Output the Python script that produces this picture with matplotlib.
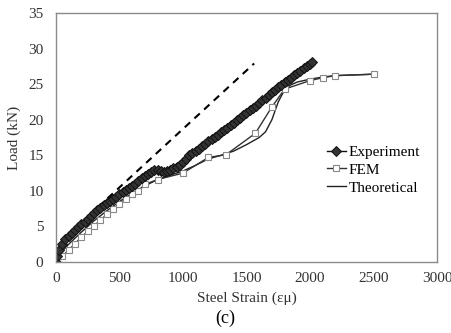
import matplotlib
matplotlib.use("Agg")
import matplotlib.pyplot as plt

# Experiment (diamonds, dense)
exp_strain = [0, 10, 25, 50, 75, 100, 125, 150, 175, 200, 225, 250, 275, 300, 325, 350,
              375, 400, 425, 450, 475, 500, 525, 550, 575, 600, 625, 650, 675, 700, 725,
              750, 775, 800, 825, 850, 875, 900, 925, 950, 975, 1000, 1025, 1050, 1075,
              1100, 1125, 1150, 1175, 1200, 1225, 1250, 1275, 1300, 1325, 1350, 1375,
              1400, 1425, 1450, 1475, 1500, 1525, 1550, 1575, 1600, 1625, 1650, 1675,
              1700, 1725, 1750, 1775, 1800, 1825, 1850, 1875, 1900, 1925, 1950, 1975,
              2000, 2015]
exp_load = [0, 0.9, 1.7, 2.6, 3.2, 3.7, 4.1, 4.5, 4.9, 5.3, 5.7, 6.1, 6.5, 6.9, 7.3, 7.6,
            8.0, 8.3, 8.6, 8.9, 9.2, 9.5, 9.8, 10.1, 10.4, 10.7, 11.0, 11.4, 11.8, 12.1, 12.4,
            12.7, 12.9, 13.0, 12.8, 12.7, 12.8, 13.0, 13.2, 13.4, 13.6, 14.0, 14.5, 15.0, 15.3,
            15.6, 15.9, 16.3, 16.6, 17.0, 17.3, 17.6, 17.9, 18.3, 18.6, 18.9, 19.3,
            19.6, 19.9, 20.3, 20.6, 21.0, 21.3, 21.7, 22.0, 22.4, 22.8, 23.1, 23.5,
            23.9, 24.2, 24.6, 24.9, 25.3, 25.6, 25.9, 26.3, 26.6, 26.9, 27.2, 27.5,
            27.8, 28.1]

# FEM (squares)
fem_strain = [0, 50, 100, 150, 200, 250, 300, 350, 400, 450, 500, 550, 600, 650, 700,
              800, 1000, 1200, 1340, 1570, 1700, 1800, 2000, 2100, 2200, 2500]
fem_load = [0, 0.8, 1.7, 2.6, 3.5, 4.3, 5.1, 5.9, 6.7, 7.5, 8.2, 8.9, 9.5, 10.0, 10.9,
            11.6, 12.5, 14.7, 15.1, 18.1, 21.8, 24.3, 25.5, 25.9, 26.2, 26.4]

# Theoretical (solid line)
theo_strain = [0, 50, 100, 200, 300, 400, 500, 600, 700, 800, 900, 1000, 1100, 1200,
               1300, 1400, 1500, 1600, 1650, 1700, 1750, 1800, 1850, 1900, 2000, 2100,
               2200, 2500]
theo_load = [0, 1.5, 2.5, 4.2, 5.8, 7.2, 8.5, 9.7, 10.7, 11.6, 12.2, 12.8, 13.6, 14.5,
             15.0, 15.6, 16.5, 17.5, 18.3, 20.0, 22.5, 24.2, 24.9, 25.3, 25.7, 26.0,
             26.2, 26.4]

# dashed reference line
ref_strain = [330, 1560]
ref_load = [7.7, 27.9]

plt.rcParams["font.family"] = ["Liberation Serif", "DejaVu Serif"]

fig = plt.figure(figsize=(4.51, 3.33), dpi=100)
ax = fig.add_axes([0.124, 0.213, 0.845, 0.748])

ax.plot(ref_strain, ref_load, color="black", linestyle=(0, (3.5, 2.8)), linewidth=1.5)
ax.plot(theo_strain, theo_load, color="#222222", linewidth=1.0, label="Theoretical")
ax.plot(fem_strain, fem_load, color="#333333", linewidth=1.0, marker="s",
        markersize=5, markerfacecolor="white", markeredgecolor="#888888",
        markeredgewidth=0.8, label="FEM")
ax.plot(exp_strain, exp_load, color="#111111", linewidth=1.0, marker="D",
        markersize=5, markerfacecolor="#333333", markeredgecolor="#111111",
        markeredgewidth=0.7, label="Experiment")

ax.set_xlim(0, 3000)
ax.set_ylim(0, 35)
ax.set_xticks([0, 500, 1000, 1500, 2000, 2500, 3000])
ax.set_yticks([0, 5, 10, 15, 20, 25, 30, 35])
ax.tick_params(length=0, labelsize=11, colors="#333333")
ax.tick_params(axis="x", pad=7)
ax.tick_params(axis="y", pad=9)
for s in ax.spines.values():
    s.set_color("#8a8a8a")
    s.set_linewidth(1.0)

ax.set_xlabel("Steel Strain (εμ)", fontsize=11, color="#333333", labelpad=5)
ax.set_ylabel("Load (kN)", fontsize=11, color="#333333", labelpad=5)

handles, labels = ax.get_legend_handles_labels()
order = [2, 1, 0]
ax.legend([handles[i] for i in order], [labels[i] for i in order],
          loc="upper left", bbox_to_anchor=(0.69, 0.50), frameon=False,
          fontsize=11, handlelength=1.25, handletextpad=0.2, borderpad=0,
          labelspacing=0.28)

fig.text(0.5, 0.045, "(c)", ha="center", va="center", fontsize=13)

fig.savefig("out.png", dpi=100)
